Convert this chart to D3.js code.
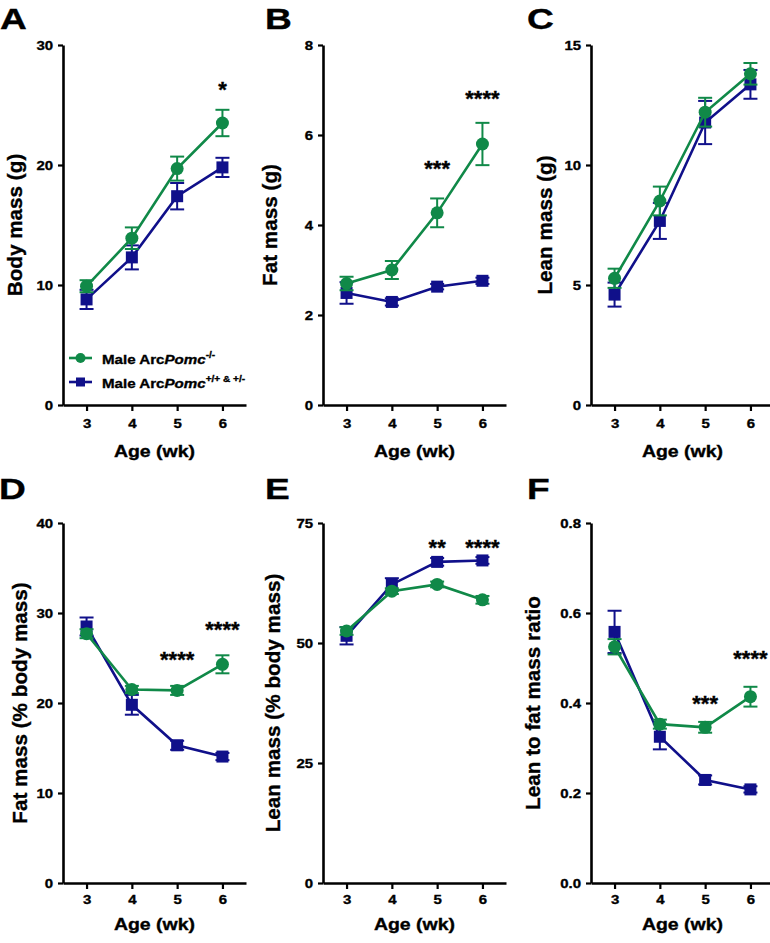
<!DOCTYPE html>
<html>
<head>
<meta charset="utf-8">
<script src="https://cdn.jsdelivr.net/npm/d3@7"></script>
<style>
  html, body { margin: 0; padding: 0; background: #fff; }
  svg { display: block; font-family: "Liberation Sans", Arial, sans-serif; font-weight: bold; }
  svg text { stroke: #000; stroke-width: 0.35px; }
</style>
</head>
<body>
<svg id="chart" width="770" height="943"></svg>
<script>
// ---------------- DATA ----------------
const ages = [3, 4, 5, 6];
const seriesNames = ["Male ArcPomc-/-", "Male ArcPomc+/+ & +/-"];

// A: Body mass (g)
const bodyMassKO = [9.9, 13.9, 19.7, 23.5];
const bodyMassKOSem = [0.5, 0.9, 1.0, 1.1];
const bodyMassWT = [8.8, 12.3, 17.4, 19.8];
const bodyMassWTSem = [0.8, 1.0, 1.1, 0.8];
const bodyMassSig = ["", "", "", "*"];
const bodyMassSigY = [null, null, null, 26.7];
const bodyMassTicks = [0, 10, 20, 30];

// B: Fat mass (g)
const fatMassKO = [2.7, 3.0, 4.27, 5.8];
const fatMassKOSem = [0.15, 0.2, 0.32, 0.47];
const fatMassWT = [2.49, 2.29, 2.63, 2.76];
const fatMassWTSem = [0.24, 0.08, 0.06, 0.07];
const fatMassSig = ["", "", "***", "****"];
const fatMassSigY = [null, null, 5.36, 6.93];
const fatMassTicks = [0, 2, 4, 6, 8];

// C: Lean mass (g)
const leanMassKO = [5.28, 8.5, 12.2, 13.8];
const leanMassKOSem = [0.4, 0.6, 0.6, 0.45];
const leanMassWT = [4.6, 7.67, 11.77, 13.36];
const leanMassWTSem = [0.5, 0.75, 0.9, 0.6];
const leanMassSig = ["", "", "", ""];
const leanMassSigY = [null, null, null, null];
const leanMassTicks = [0, 5, 10, 15];

// D: Fat mass (% body mass)
const fatPctKO = [27.7, 21.5, 21.4, 24.3];
const fatPctKOSem = [0.5, 0.4, 0.5, 1.0];
const fatPctWT = [28.5, 19.8, 15.3, 14.05];
const fatPctWTSem = [1.0, 1.1, 0.5, 0.4];
const fatPctSig = ["", "", "****", "****"];
const fatPctSigY = [null, null, 25.4, 28.7];
const fatPctTicks = [0, 10, 20, 30, 40];

// E: Lean mass (% body mass)
const leanPctKO = [52.5, 60.8, 62.2, 59.0];
const leanPctKOSem = [0.8, 0.6, 0.6, 0.8];
const leanPctWT = [51.5, 62.2, 66.9, 67.2];
const leanPctWTSem = [1.8, 1.3, 0.8, 0.7];
const leanPctSig = ["", "", "**", "****"];
const leanPctSigY = [null, null, 71.0, 71.0];
const leanPctTicks = [0, 25, 50, 75];

// F: Lean to fat mass ratio
const ratioKO = [0.525, 0.353, 0.346, 0.414];
const ratioKOSem = [0.017, 0.01, 0.012, 0.022];
const ratioWT = [0.558, 0.325, 0.229, 0.208];
const ratioWTSem = [0.047, 0.028, 0.01, 0.007];
const ratioSig = ["", "", "***", "****"];
const ratioSigY = [null, null, 0.409, 0.511];
const ratioTicks = [0, 0.2, 0.4, 0.6, 0.8];

// ---------------- STYLE / LAYOUT ----------------
const GREEN = "#108948";
const BLUE = "#10108A";

const panels = [
  { letter: "A", lx: 0,   ly: 28.5,  ax: 63,  top: 45,  bottom: 405, title: "Body mass (g)", tx: 22, pad: 8, xt: 52,
    ko: bodyMassKO, koSem: bodyMassKOSem, wt: bodyMassWT, wtSem: bodyMassWTSem,
    sig: bodyMassSig, sigY: bodyMassSigY, ticks: bodyMassTicks, fmt: d3.format("d"), legend: true },
  { letter: "B", lx: 265, ly: 28.5,  ax: 323, top: 45,  bottom: 405, title: "Fat mass (g)", tx: 277, pad: 8, xt: 52,
    ko: fatMassKO, koSem: fatMassKOSem, wt: fatMassWT, wtSem: fatMassWTSem,
    sig: fatMassSig, sigY: fatMassSigY, ticks: fatMassTicks, fmt: d3.format("d") },
  { letter: "C", lx: 527, ly: 28.5,  ax: 591, top: 45,  bottom: 405, title: "Lean mass (g)", tx: 552, pad: 8, xt: 52,
    ko: leanMassKO, koSem: leanMassKOSem, wt: leanMassWT, wtSem: leanMassWTSem,
    sig: leanMassSig, sigY: leanMassSigY, ticks: leanMassTicks, fmt: d3.format("d") },
  { letter: "D", lx: -1,  ly: 498.5, ax: 63,  top: 523, bottom: 883, title: "Fat mass (% body mass)", tx: 27, pad: 6, xt: 47,
    ko: fatPctKO, koSem: fatPctKOSem, wt: fatPctWT, wtSem: fatPctWTSem,
    sig: fatPctSig, sigY: fatPctSigY, ticks: fatPctTicks, fmt: d3.format("d") },
  { letter: "E", lx: 265, ly: 498.5, ax: 323, top: 523, bottom: 883, title: "Lean mass (% body mass)", tx: 280, pad: 6, xt: 47,
    ko: leanPctKO, koSem: leanPctKOSem, wt: leanPctWT, wtSem: leanPctWTSem,
    sig: leanPctSig, sigY: leanPctSigY, ticks: leanPctTicks, fmt: d3.format("d") },
  { letter: "F", lx: 527, ly: 498.5, ax: 591, top: 523, bottom: 883, title: "Lean to fat mass ratio", tx: 540, pad: 6, xt: 47,
    ko: ratioKO, koSem: ratioKOSem, wt: ratioWT, wtSem: ratioWTSem,
    sig: ratioSig, sigY: ratioSigY, ticks: ratioTicks, fmt: d3.format(".1f") }
];

const svg = d3.select("#chart");
const AXIS_W = 183;

// widen glyphs horizontally (the reference's lettering is broad)
function stretch(sel, k) {
  sel.each(function () {
    const w = this.getComputedTextLength();
    d3.select(this).attr("textLength", w * k).attr("lengthAdjust", "spacingAndGlyphs");
  });
}

function drawSeries(g, x, y, vals, sems, color, shape) {
  const line = d3.line().x((d, i) => x(ages[i])).y(d => y(d));
  g.append("path").datum(vals)
    .attr("d", line).attr("fill", "none")
    .attr("stroke", color).attr("stroke-width", 2.6);
  const eb = g.append("g").attr("stroke", color).attr("stroke-width", 2).attr("fill", "none");
  vals.forEach((v, i) => {
    const cx = x(ages[i]);
    const y1 = y(v + sems[i]), y0 = y(v - sems[i]);
    eb.append("line").attr("x1", cx).attr("x2", cx).attr("y1", y1).attr("y2", y0);
    eb.append("line").attr("x1", cx - 7).attr("x2", cx + 7).attr("y1", y1).attr("y2", y1);
    eb.append("line").attr("x1", cx - 7).attr("x2", cx + 7).attr("y1", y0).attr("y2", y0);
  });
  if (shape === "circle") {
    g.append("g").selectAll("circle").data(vals).join("circle")
      .attr("cx", (d, i) => x(ages[i])).attr("cy", d => y(d))
      .attr("r", 6.5).attr("fill", color);
  } else {
    g.append("g").selectAll("rect").data(vals).join("rect")
      .attr("x", (d, i) => x(ages[i]) - 6).attr("y", d => y(d) - 6)
      .attr("width", 12).attr("height", 12).attr("fill", color);
  }
}

panels.forEach(p => {
  const g = svg.append("g");
  const x = d3.scaleLinear().domain([2.48, 6.52]).range([p.ax, p.ax + AXIS_W]);
  const ymax = p.ticks[p.ticks.length - 1];
  const y = d3.scaleLinear().domain([0, ymax]).range([p.bottom, p.top]);

  g.append("text").attr("class", "letter").attr("x", p.lx).attr("y", p.ly)
    .attr("font-size", 29).attr("fill", "#000").text(p.letter);

  const yAxis = g.append("g").attr("transform", `translate(${p.ax},0)`)
    .call(d3.axisLeft(y).tickValues(p.ticks).tickFormat(p.fmt).tickSize(5).tickPadding(5).tickSizeOuter(0));
  const xAxis = g.append("g").attr("transform", `translate(0,${p.bottom})`)
    .call(d3.axisBottom(x).tickValues(ages).tickFormat(d3.format("d")).tickSize(6).tickPadding(p.pad).tickSizeOuter(0));
  [yAxis, xAxis].forEach(a => {
    a.selectAll("path.domain").attr("stroke", "#000").attr("stroke-width", 2.6);
    a.selectAll(".tick line").attr("stroke", "#000").attr("stroke-width", 2.2);
    a.selectAll(".tick text").attr("class", "ticklab").attr("fill", "#000").attr("font-size", 13)
      .attr("font-family", "Liberation Sans, Arial, sans-serif").attr("font-weight", "bold");
  });

  g.append("text").attr("class", "xtitle").attr("x", p.ax + AXIS_W / 2).attr("y", p.bottom + p.xt)
    .attr("text-anchor", "middle").attr("font-size", 16.8).text("Age (wk)");
  g.append("text")
    .attr("transform", `translate(${p.tx},${(p.top + p.bottom) / 2}) rotate(-90)`)
    .attr("text-anchor", "middle").attr("font-size", 20.7).text(p.title);

  drawSeries(g, x, y, p.wt, p.wtSem, BLUE, "square");
  drawSeries(g, x, y, p.ko, p.koSem, GREEN, "circle");

  p.sig.forEach((s, i) => {
    if (!s) return;
    g.append("text").attr("x", x(ages[i])).attr("y", y(p.sigY[i]) + 12.5)
      .attr("text-anchor", "middle").attr("font-size", 22).text(s);
  });

  if (p.legend) {
    const lg = g.append("g");
    const items = [
      { color: GREEN, shape: "circle", base: "Male Arc", ital: "Pomc", sup: "-/-", yy: 358 },
      { color: BLUE, shape: "square", base: "Male Arc", ital: "Pomc", sup: "+/+ & +/-", yy: 382 }
    ];
    items.forEach(it => {
      lg.append("line").attr("x1", 69).attr("x2", 92).attr("y1", it.yy).attr("y2", it.yy)
        .attr("stroke", it.color).attr("stroke-width", 2.6);
      if (it.shape === "circle") {
        lg.append("circle").attr("cx", 80.5).attr("cy", it.yy).attr("r", 5).attr("fill", it.color);
      } else {
        lg.append("rect").attr("x", 76).attr("y", it.yy - 4.5).attr("width", 9).attr("height", 9).attr("fill", it.color);
      }
      const t = lg.append("text").attr("class", "legtext").attr("x", 102).attr("y", it.yy + 5.5).attr("font-size", 13.5);
      t.append("tspan").text(it.base);
      t.append("tspan").attr("font-style", "italic").text(it.ital);
      t.append("tspan").attr("font-size", 9).attr("dy", -6).text(it.sup);
    });
  }
});

stretch(svg.selectAll("text.ticklab"), 1.15);
stretch(svg.selectAll("text.xtitle"), 1.16);
stretch(svg.selectAll("text.letter"), 1.28);
stretch(svg.selectAll("text.legtext"), 1.12);
</script>
</body>
</html>
